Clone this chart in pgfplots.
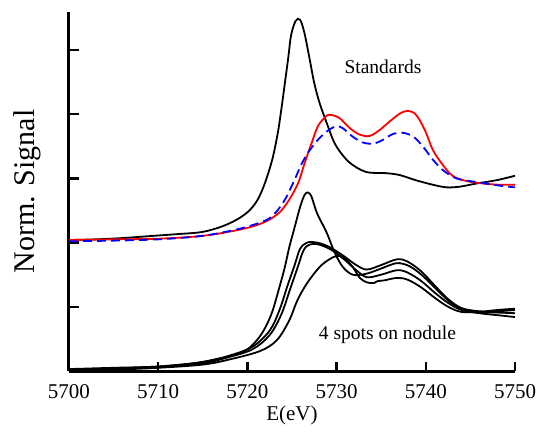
\documentclass[border=0pt]{standalone}
\usepackage{fontspec}
\setmainfont{Liberation Serif}
\usepackage{pgfplots}
\pgfplotsset{compat=1.18}

\begin{document}
\begin{tikzpicture}
\begin{axis}[
    scale only axis,
    width=446pt, height=359pt,
    xmin=5700, xmax=5750, ymin=0, ymax=5.59,
    axis lines=left,
    axis line style={line width=3pt, -},
    xtick={5700,5710,...,5750},
    ytick={1,2,3,4,5},
    yticklabels={},
    tick align=inside,
    major tick length=9.5pt,
    tick style={line width=2.5pt, black},
    /pgf/number format/assume math mode=true,
    /pgf/number format/1000 sep={},
    xticklabel style={font=\fontsize{21}{24}\selectfont, yshift=-10pt},
    xlabel={E(eV)},
    xlabel style={font=\fontsize{21}{24}\selectfont, at={(axis description cs:0.5,0)}, anchor=north, yshift=-31pt},
    ylabel={Norm. Signal},
    ylabel style={font=\fontsize{30}{34}\selectfont, at={(axis description cs:-0.056,0.5)}, anchor=south, rotate=0},
    every axis plot/.append style={line width=1.8pt, smooth, tension=0.55},
]
\coordinate (sw) at (rel axis cs:0,0);
\coordinate (ne) at (rel axis cs:1,1);

% standards
\addplot[black] coordinates {
(5700,2.04) (5703,2.05) (5706,2.07) (5709,2.10) (5712,2.13) (5714.7,2.16) (5716.5,2.22)
(5718.0,2.30) (5719.2,2.39) (5720.3,2.51) (5721.2,2.68) (5722.0,2.94) (5722.8,3.30)
(5723.4,3.70) (5723.8,4.07) (5724.2,4.48) (5724.6,4.90) (5724.9,5.23) (5725.4,5.45)
(5725.9,5.47) (5726.4,5.26) (5727.0,4.84) (5727.5,4.48) (5728.1,4.17) (5728.9,3.86)
(5729.6,3.60) (5730.3,3.43) (5731.5,3.24) (5733.3,3.10) (5735.6,3.08) (5737.1,3.05)
(5738.9,2.97) (5740.8,2.90) (5742.3,2.86) (5743.8,2.87) (5745.7,2.92) (5747.9,2.97) (5750,3.04)};
\addplot[red] coordinates {
(5700,2.04) (5705,2.05) (5710,2.06) (5714.7,2.10) (5718,2.17) (5720.3,2.24) (5722.1,2.33)
(5723.6,2.47) (5724.7,2.67) (5725.7,2.93) (5726.4,3.23) (5727.2,3.55) (5727.9,3.81)
(5728.7,3.95) (5729.2,3.99) (5730.3,3.94) (5731.5,3.78) (5732.6,3.68) (5733.7,3.66)
(5734.8,3.75) (5735.9,3.88) (5737.1,4.01) (5738.0,4.05) (5738.9,3.99) (5739.9,3.75)
(5740.8,3.44) (5741.9,3.21) (5743.0,3.04) (5744.5,2.96) (5746.4,2.92) (5748.3,2.90) (5750,2.90)};
\addplot[blue, dash pattern=on 9pt off 5pt] coordinates {
(5700,2.02) (5705,2.03) (5710,2.05) (5714.7,2.10) (5718,2.18) (5720.3,2.26) (5722.5,2.38)
(5724.0,2.62) (5725.1,2.92) (5726.1,3.23) (5727.0,3.44) (5728.1,3.63) (5729.2,3.76)
(5730.0,3.81) (5730.7,3.78) (5731.8,3.65) (5732.9,3.56) (5734.1,3.54) (5735.2,3.60)
(5736.3,3.69) (5737.4,3.71) (5738.6,3.65) (5739.7,3.49) (5740.8,3.29) (5741.9,3.13)
(5743.4,3.00) (5745.3,2.95) (5747.1,2.91) (5748.6,2.88) (5750,2.86)};

% four spots on nodule
\addplot[black] coordinates {
(5700,0.02) (5705,0.04) (5710,0.07) (5714,0.12) (5717,0.20) (5719,0.27) (5720.3,0.37)
(5721.6,0.58) (5722.7,0.89) (5723.6,1.31) (5724.2,1.62) (5724.7,1.93) (5725.3,2.24)
(5725.9,2.55) (5726.4,2.74) (5726.8,2.78) (5727.2,2.71) (5727.8,2.46) (5728.9,2.15)
(5729.8,1.84) (5730.7,1.62) (5731.8,1.50) (5733.2,1.51) (5734.7,1.58) (5736.2,1.66)
(5737.0,1.68) (5738.2,1.63) (5739.5,1.50) (5741,1.30) (5742.5,1.10) (5744,0.97)
(5746,0.92) (5748,0.91) (5750,0.90)};
\addplot[black] coordinates {
(5700,0.03) (5705,0.05) (5710,0.07) (5715,0.14) (5718,0.24) (5720.6,0.38) (5722.5,0.63)
(5723.6,0.95) (5724.5,1.33) (5725.3,1.65) (5725.9,1.90) (5726.7,2.00) (5727.8,2.00)
(5729.2,1.93) (5730.7,1.80) (5732.2,1.65) (5733.4,1.58) (5735,1.65) (5736.8,1.74)
(5738,1.70) (5739.5,1.55) (5741,1.33) (5742.5,1.12) (5744,0.98) (5746,0.93) (5748,0.93) (5750,0.95)};
\addplot[black] coordinates {
(5700,0.02) (5705,0.04) (5710,0.06) (5715,0.12) (5718,0.22) (5720.6,0.34) (5722.5,0.56)
(5723.8,0.88) (5724.8,1.28) (5725.6,1.60) (5726.3,1.88) (5727.0,1.97) (5728,1.97)
(5729.5,1.88) (5731,1.72) (5732.2,1.57) (5733.4,1.46) (5735,1.50) (5736.8,1.57)
(5738,1.53) (5739.5,1.40) (5741,1.22) (5742.5,1.06) (5744,0.95) (5746,0.90) (5748,0.87) (5750,0.84)};
\addplot[black] coordinates {
(5700,0.00) (5705,0.02) (5710,0.05) (5715,0.10) (5718,0.18) (5721.4,0.31) (5723.3,0.48)
(5724.7,0.79) (5725.6,1.10) (5726.7,1.37) (5728.1,1.62) (5729.2,1.74) (5730.0,1.79)
(5730.8,1.77) (5731.8,1.62) (5732.6,1.45) (5733.4,1.38) (5734.2,1.37) (5734.6,1.40)
(5735.3,1.41) (5736.8,1.45) (5738,1.42) (5739.5,1.30) (5741,1.14) (5742.5,1.00)
(5744,0.92) (5746,0.92) (5748,0.95) (5750,0.97)};

\node[font=\fontsize{19.5}{23}\selectfont] at (axis cs:5735.2,4.74) {Standards};
\node[font=\fontsize{19.5}{23}\selectfont] at (axis cs:5735.7,0.57) {4 spots on nodule};
\end{axis}
\pgfresetboundingbox
\path[use as bounding box] ([shift={(-69pt,-60pt)}]sw) rectangle ([shift={(23pt,12pt)}]ne);
\end{tikzpicture}
\end{document}
